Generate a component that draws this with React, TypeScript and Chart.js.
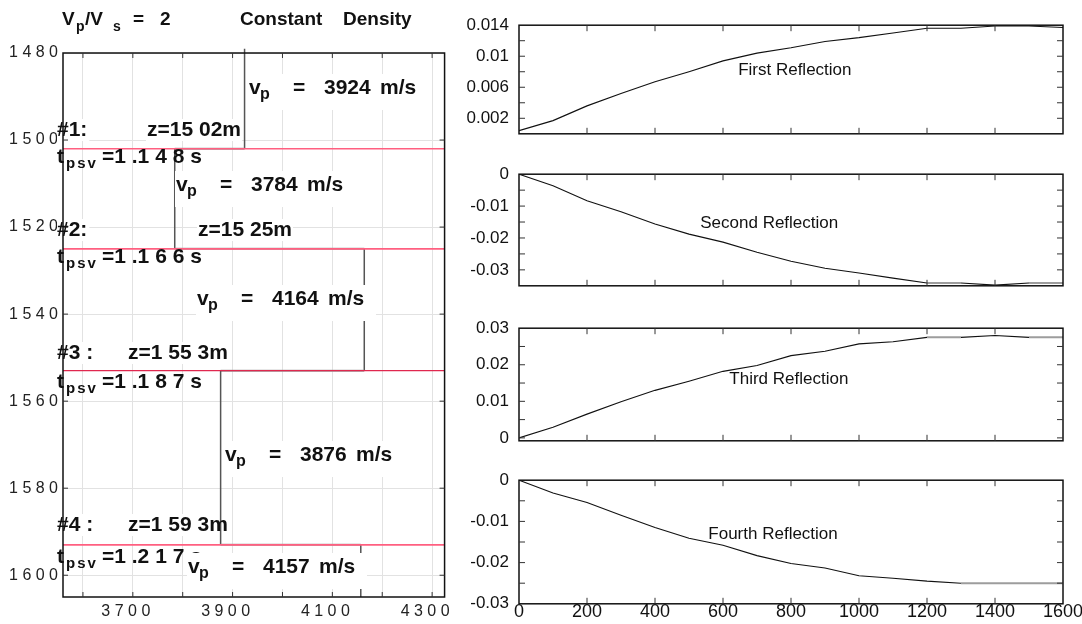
import React, { useEffect, useRef } from 'react';
import { Chart, registerables } from 'chart.js';

Chart.register(...registerables);

// ===================== DATA =====================
// Left panel: P-wave velocity profile vs depth
const velocities = [3924, 3784, 4164, 3876, 4157]; // m/s per layer
const interfaceDepths = [1502, 1525, 1553, 1593]; // m
const profileTopDepth = 1479;
const profileBottomDepth = 1605;
const interfaceNames = ['#1:', '#2:', '#3 :', '#4 :'];
const depthTexts = ['z=15 02m', 'z=15 25m', 'z=1 55 3m', 'z=1 59 3m'];
const tpsvTexts = ['=1 .1 4 8 s', '=1 .1 6 6 s', '=1 .1 8 7 s', '=1 .2 1 7 s'];
const depthTicks = [1480, 1500, 1520, 1540, 1560, 1580, 1600];
const velocityTicks = [3600, 3700, 3800, 3900, 4000, 4100, 4200, 4300];
const velocityTickLabels = [3700, 3900, 4100, 4300];
const velocityRange = [3560, 4325];
const depthRange = [1480, 1605];

// Right panels: reflection coefficient vs offset
const offsets = [0, 100, 200, 300, 400, 500, 600, 700, 800, 900, 1000, 1100, 1200, 1300, 1400, 1500, 1600];
const firstReflection = [0.0004, 0.0017, 0.0036, 0.0052, 0.0067, 0.008, 0.0094, 0.0104, 0.0111, 0.0119, 0.0124, 0.013, 0.0136, 0.0136, 0.0139, 0.0139, 0.0137];
const secondReflection = [0, -0.0036, -0.0083, -0.0118, -0.0156, -0.0188, -0.0213, -0.0245, -0.0273, -0.0295, -0.031, -0.0326, -0.0341, -0.0341, -0.0348, -0.0341, -0.0341];
const thirdReflection = [0, 0.0029, 0.0065, 0.0099, 0.013, 0.0155, 0.0182, 0.0198, 0.0225, 0.0237, 0.0257, 0.0263, 0.0275, 0.0275, 0.028, 0.0275, 0.0275];
const fourthReflection = [0, -0.0031, -0.0054, -0.0085, -0.0115, -0.0141, -0.0158, -0.0183, -0.0202, -0.0213, -0.0232, -0.0238, -0.0245, -0.025, -0.025, -0.025, -0.025];
const reflectionTitles = ['First Reflection', 'Second Reflection', 'Third Reflection', 'Fourth Reflection'];
const offsetTicks = [0, 200, 400, 600, 800, 1000, 1200, 1400, 1600];
const amplitudeRanges = [[0, 0.014], [-0.035, 0], [-0.0008, 0.03], [-0.03, 0]];
const amplitudeTicks = [
  [0.002, 0.004, 0.006, 0.008, 0.01, 0.012, 0.014],
  [0, -0.005, -0.01, -0.015, -0.02, -0.025, -0.03],
  [0, 0.005, 0.01, 0.015, 0.02, 0.025, 0.03],
  [0, -0.005, -0.01, -0.015, -0.02, -0.025, -0.03],
];
const amplitudeTickLabels = [
  [0.002, 0.006, 0.01, 0.014],
  [0, -0.01, -0.02, -0.03],
  [0, 0.01, 0.02, 0.03],
  [0, -0.01, -0.02, -0.03],
];
const reflectionSeries = [firstReflection, secondReflection, thirdReflection, fourthReflection];

// ===================== LAYOUT & STYLE =====================
const FONT = '"Liberation Sans", Arial, Helvetica, sans-serif';
const INK = '#111';
const INTERFACE_COLORS = ['#ff5f80', '#ff5f80', '#e0284f', '#ff5f80'];
const LEFT = { width: 462, height: 624, area: { left: 63, right: 449, top: 53, bottom: 597 } };
const RIGHT = { x: 462, width: 620, areaLeft: 519, areaRight: 1063 };
const PANELS = [
  { top: 17, bottom: 148 },
  { top: 166, bottom: 300 },
  { top: 320, bottom: 455 },
  { top: 472, bottom: 607 },
];
const PANEL_TITLE_POS = [[0.507, 0.42], [0.46, 0.44], [0.496, 0.45], [0.467, 0.437]];
const VP_LABEL_POS = [[249, 88], [176, 185], [197, 299], [225, 455], [188, 567]];
const ROW_Y = [130, 230, 353, 525];
const Z_LABEL_X = [147, 198, 128, 128];
const TPSV_Y = [157, 257, 382, 557];

// ===================== HELPERS =====================
type Part = { t: string; x: number; size: number; dy?: number; bold?: boolean; spacing?: number };

function drawParts(ctx: CanvasRenderingContext2D, x0: number, y: number, parts: Part[]) {
  ctx.save();
  ctx.fillStyle = INK;
  ctx.textBaseline = 'middle';
  ctx.textAlign = 'left';
  for (const p of parts) {
    ctx.font = `${p.bold === false ? '' : 'bold '}${p.size}px ${FONT}`;
    (ctx as any).letterSpacing = `${p.spacing || 0}px`;
    ctx.fillText(p.t, x0 + p.x, y + (p.dy || 0));
  }
  (ctx as any).letterSpacing = '0px';
  ctx.restore();
}

const spaced = (v: number) => String(v).split('').join(' ');

const framePlugin = {
  id: 'frame',
  afterDatasetsDraw(chart: any, _args: any, opts: any) {
    const { ctx, chartArea: a, scales } = chart;
    ctx.save();
    ctx.strokeStyle = opts.color;
    ctx.lineWidth = opts.width;
    ctx.strokeRect(a.left, a.top, a.right - a.left, a.bottom - a.top);
    ctx.strokeStyle = opts.tickColor;
    ctx.lineWidth = opts.tickWidth;
    const L = opts.tickLength;
    ctx.beginPath();
    for (const t of scales.x.ticks) {
      const p = scales.x.getPixelForValue(t.value);
      if (p <= a.left + 1 || p >= a.right - 1) continue;
      ctx.moveTo(p, a.top);
      ctx.lineTo(p, a.top + L);
      ctx.moveTo(p, a.bottom);
      ctx.lineTo(p, a.bottom - L);
    }
    for (const t of scales.y.ticks) {
      const p = scales.y.getPixelForValue(t.value);
      if (p <= a.top + 1 || p >= a.bottom - 1) continue;
      ctx.moveTo(a.left, p);
      ctx.lineTo(a.left + L, p);
      ctx.moveTo(a.right, p);
      ctx.lineTo(a.right - L, p);
    }
    ctx.stroke();
    ctx.restore();
  },
};

const leftLabelsPlugin = {
  id: 'leftLabels',
  beforeDatasetsDraw(chart: any) {
    const ctx: CanvasRenderingContext2D = chart.ctx;
    ctx.save();
    ctx.fillStyle = '#fff';
    ctx.font = `bold 21px ${FONT}`;
    ROW_Y.forEach((y, i) => {
      const wn = ctx.measureText(interfaceNames[i]).width;
      ctx.fillRect(57, y - 11, wn + 2, 22);
      const wz = ctx.measureText(depthTexts[i]).width;
      ctx.fillRect(Z_LABEL_X[i] - 1, y - 11, wz + 2, 22);
    });
    ctx.restore();
  },
  afterDatasetsDraw(chart: any) {
    const ctx: CanvasRenderingContext2D = chart.ctx;
    // title
    drawParts(ctx, 0, 20, [
      { t: 'V', x: 62, size: 19 },
      { t: 'p', x: 76, size: 14, dy: 7 },
      { t: '/V', x: 85, size: 19 },
      { t: 's', x: 113, size: 14, dy: 7 },
      { t: '=', x: 133, size: 19 },
      { t: '2', x: 160, size: 19 },
      { t: 'Constant', x: 240, size: 19 },
      { t: 'Density', x: 343, size: 19 },
    ]);
    // interface names and depths
    ROW_Y.forEach((y, i) => {
      drawParts(ctx, 0, y, [
        { t: interfaceNames[i], x: 57, size: 21 },
        { t: depthTexts[i], x: Z_LABEL_X[i], size: 21 },
      ]);
    });
    // t_psv labels
    TPSV_Y.forEach((y, i) => {
      drawParts(ctx, 57, y, [
        { t: 't', x: 0, size: 21 },
        { t: 'psv', x: 9, size: 15, dy: 7, spacing: 2 },
        { t: tpsvTexts[i], x: 45, size: 21 },
      ]);
    });
    // velocity labels with white boxes
    VP_LABEL_POS.forEach(([x, y], i) => {
      ctx.save();
      ctx.fillStyle = '#fff';
      ctx.fillRect(x - 1, y - 14, 180, 36);
      ctx.restore();
      drawParts(ctx, x, y, [
        { t: 'v', x: 0, size: 21 },
        { t: 'p', x: 11, size: 16, dy: 7 },
        { t: '=', x: 44, size: 21 },
        { t: String(velocities[i]), x: 75, size: 21 },
        { t: 'm/s', x: 131, size: 21 },
      ]);
    });
  },
};

const panelTitlePlugin = {
  id: 'panelTitle',
  afterDatasetsDraw(chart: any, _args: any, opts: any) {
    const { ctx, chartArea: a } = chart;
    ctx.save();
    ctx.font = `17px ${FONT}`;
    ctx.fillStyle = INK;
    ctx.textAlign = 'center';
    ctx.textBaseline = 'middle';
    ctx.fillText(opts.text, a.left + opts.fx * (a.right - a.left), a.top + opts.fy * (a.bottom - a.top));
    ctx.restore();
  },
};

// ===================== CONFIGS =====================
function leftConfig(): any {
  const profile: { x: number; y: number }[] = [];
  velocities.forEach((v, i) => {
    const top = i === 0 ? profileTopDepth : interfaceDepths[i - 1];
    const bottom = i === velocities.length - 1 ? profileBottomDepth : interfaceDepths[i];
    profile.push({ x: v, y: top }, { x: v, y: bottom });
  });
  const redSets = interfaceDepths.map((d, i) => ({
    data: [{ x: velocityRange[0], y: d }, { x: velocityRange[1], y: d }],
    showLine: true,
    borderColor: INTERFACE_COLORS[i],
    borderWidth: i === 2 ? 1.3 : 1.7,
    pointRadius: 0,
  }));
  const a = LEFT.area;
  return {
    type: 'scatter',
    data: {
      datasets: [
        ...redSets,
        {
          data: profile,
          showLine: true,
          clip: false,
          pointRadius: 0,
          borderColor: '#555',
          borderWidth: 1.5,
          segment: {
            borderColor: (c: any) => (c.p0.parsed.y === c.p1.parsed.y ? '#9a9a9a' : '#555'),
            borderWidth: (c: any) => (c.p0.parsed.y === c.p1.parsed.y ? 2 : 1.5),
          },
        },
      ],
    },
    options: {
      animation: false,
      responsive: false,
      maintainAspectRatio: false,
      events: [],
      layout: { padding: { top: a.top, right: LEFT.width - a.right, left: 0, bottom: 0 } },
      plugins: {
        legend: { display: false },
        tooltip: { enabled: false },
        frame: { color: '#111', width: 1.5, tickColor: '#333', tickWidth: 1, tickLength: 5 },
      },
      scales: {
        x: {
          type: 'linear',
          min: velocityRange[0],
          max: velocityRange[1],
          afterBuildTicks: (s: any) => { s.ticks = velocityTicks.map((value) => ({ value })); },
          afterFit: (s: any) => { s.height = LEFT.height - a.bottom; },
          ticks: {
            autoSkip: false,
            maxRotation: 0,
            padding: 5,
            labelOffset: -7,
            color: '#222',
            font: { family: FONT, size: 16 },
            callback: (v: number) => (velocityTickLabels.includes(v) ? spaced(v) : ''),
          },
          grid: { color: '#e2e2e2', lineWidth: 1, drawTicks: false },
          border: { display: false },
        },
        y: {
          type: 'linear',
          reverse: true,
          min: depthRange[0],
          max: depthRange[1],
          afterBuildTicks: (s: any) => { s.ticks = depthTicks.map((value) => ({ value })); },
          afterFit: (s: any) => { s.width = a.left; },
          ticks: {
            autoSkip: false,
            padding: 5,
            color: '#222',
            font: { family: FONT, size: 16 },
            callback: (v: number) => spaced(v),
          },
          grid: { color: '#e2e2e2', lineWidth: 1, drawTicks: false },
          border: { display: false },
        },
      },
    },
    plugins: [framePlugin, leftLabelsPlugin],
  };
}

function rightConfig(i: number): any {
  const padTop = 12;
  const bottomH = i === 3 ? 17 : 6;
  const isFlat = (c: any) => i > 0 && Math.abs(c.p0.parsed.y - c.p1.parsed.y) < 1e-9;
  const labels = amplitudeTickLabels[i];
  return {
    type: 'scatter',
    data: {
      datasets: [
        {
          data: offsets.map((x, k) => ({ x, y: reflectionSeries[i][k] })),
          showLine: true,
          pointRadius: 0,
          borderColor: INK,
          borderWidth: 1.1,
          segment: {
            borderColor: (c: any) => (isFlat(c) ? '#9d9d9d' : INK),
            borderWidth: (c: any) => (isFlat(c) ? 2 : 1.1),
          },
        },
      ],
    },
    options: {
      animation: false,
      responsive: false,
      maintainAspectRatio: false,
      events: [],
      layout: { padding: { top: padTop, right: RIGHT.x + RIGHT.width - RIGHT.areaRight, left: 0, bottom: 0 } },
      plugins: {
        legend: { display: false },
        tooltip: { enabled: false },
        frame: { color: '#111', width: 1.5, tickColor: '#333', tickWidth: 1, tickLength: 6 },
        panelTitle: { text: reflectionTitles[i], fx: PANEL_TITLE_POS[i][0], fy: PANEL_TITLE_POS[i][1] },
      },
      scales: {
        x: {
          type: 'linear',
          min: offsetTicks[0],
          max: offsetTicks[offsetTicks.length - 1],
          afterBuildTicks: (s: any) => { s.ticks = offsetTicks.map((value) => ({ value })); },
          afterFit: (s: any) => { s.height = bottomH; },
          ticks: {
            display: i === 3,
            autoSkip: false,
            maxRotation: 0,
            padding: -3,
            color: INK,
            font: { family: FONT, size: 18 },
            callback: (v: number) => String(v),
          },
          grid: { display: false, drawTicks: false },
          border: { display: false },
        },
        y: {
          type: 'linear',
          min: amplitudeRanges[i][0],
          max: amplitudeRanges[i][1],
          afterBuildTicks: (s: any) => { s.ticks = amplitudeTicks[i].map((value) => ({ value })); },
          afterFit: (s: any) => { s.width = RIGHT.areaLeft - RIGHT.x; },
          ticks: {
            autoSkip: false,
            padding: 10,
            color: INK,
            font: { family: FONT, size: 17 },
            callback: (v: number) => {
              if (!labels.some((l) => Math.abs(l - v) < 1e-9)) return '';
              if (Math.abs(v) < 1e-12) return '0';
              return String(Number(v.toFixed(3)));
            },
          },
          grid: { display: false, drawTicks: false },
          border: { display: false },
        },
      },
    },
    plugins: [framePlugin, panelTitlePlugin],
  };
}

// ===================== COMPONENTS =====================
function ChartCanvas(props: { make: () => any; left: number; top: number; width: number; height: number }) {
  const ref = useRef<HTMLCanvasElement>(null);
  useEffect(() => {
    const chart = new Chart(ref.current as HTMLCanvasElement, props.make());
    return () => chart.destroy();
  }, []);
  return (
    <canvas
      ref={ref}
      width={props.width}
      height={props.height}
      style={{ position: 'absolute', left: props.left, top: props.top, width: props.width, height: props.height }}
    />
  );
}

export default function App() {
  useEffect(() => {
    document.body.style.margin = '0';
  }, []);
  return (
    <div style={{ position: 'relative', width: 1082, height: 624, background: '#fff', overflow: 'hidden' }}>
      <ChartCanvas make={leftConfig} left={0} top={0} width={LEFT.width} height={LEFT.height} />
      {PANELS.map((p, i) => {
        const top = p.top - 12;
        const height = p.bottom - p.top + 12 + (i === 3 ? 17 : 6);
        return (
          <ChartCanvas key={i} make={() => rightConfig(i)} left={RIGHT.x} top={top} width={RIGHT.width} height={height} />
        );
      })}
    </div>
  );
}
